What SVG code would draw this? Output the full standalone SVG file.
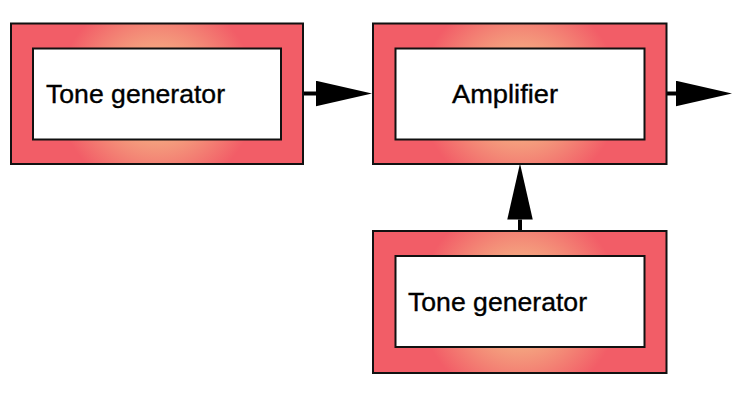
<svg xmlns="http://www.w3.org/2000/svg" width="753" height="407" viewBox="0 0 753 407">
<defs>
<radialGradient id="glow" cx="0.5" cy="0.5" r="0.5" gradientTransform="translate(0.5,0.5) scale(0.68,1.42) translate(-0.5,-0.5)">
<stop offset="0" stop-color="#f7b88c"/>
<stop offset="0.45" stop-color="#f4a27f"/>
<stop offset="1" stop-color="#f25d67"/>
</radialGradient>
<marker id="head" markerUnits="userSpaceOnUse" markerWidth="56" markerHeight="26" refX="0" refY="12.75" orient="auto" viewBox="0 0 56 25.5">
<path d="M0,0 L56,12.75 L0,25.5 Z" fill="#000"/>
</marker>
<style>
.outer{fill:url(#glow);stroke:#111;stroke-width:2}
.inner{fill:#fff;stroke:#111;stroke-width:2}
.lbl{font-family:"Liberation Sans",Arial,sans-serif;font-size:26px;fill:#000;stroke:#000;stroke-width:0.35}
.conn{stroke:#000;stroke-width:4;fill:none;marker-end:url(#head)}
</style>
</defs>
<g id="connectors">
<line class="conn" x1="303" y1="93.5" x2="316" y2="93.5"/>
<line class="conn" x1="666" y1="93.5" x2="676" y2="93.5"/>
<line class="conn" x1="520" y1="231" x2="520" y2="219.5"/>
</g>
<g id="tone1">
<rect class="outer" x="11" y="23.5" width="292" height="140.5"/>
<rect class="inner" x="33" y="48.5" width="248" height="91"/>
<text class="lbl" x="46" y="103" textLength="179" lengthAdjust="spacingAndGlyphs">Tone generator</text>
</g>
<g id="amplifier">
<rect class="outer" x="373" y="23.5" width="293.5" height="140.5"/>
<rect class="inner" x="395.5" y="48.5" width="249" height="91"/>
<text class="lbl" x="452" y="103" textLength="106" lengthAdjust="spacingAndGlyphs">Amplifier</text>
</g>
<g id="tone2">
<rect class="outer" x="373" y="231" width="293.5" height="142"/>
<rect class="inner" x="395.5" y="256" width="249" height="91"/>
<text class="lbl" x="408" y="311" textLength="179" lengthAdjust="spacingAndGlyphs">Tone generator</text>
</g>
</svg>
